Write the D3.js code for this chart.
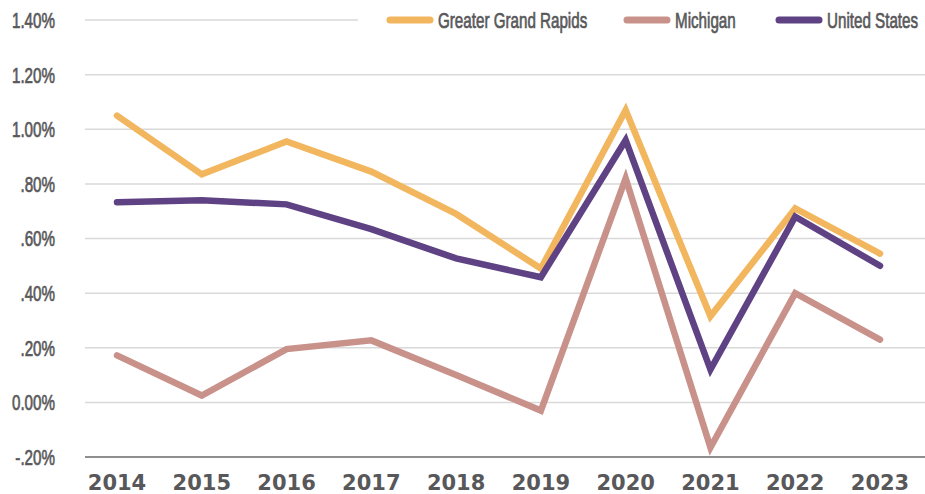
<!DOCTYPE html>
<html>
<head>
<meta charset="utf-8">
<script src="https://cdn.jsdelivr.net/npm/d3@7"></script>
<style>
  body { margin: 0; background: #fff; }
  svg { display: block; }
  .narrow { font-family: "Liberation Sans", Arial, sans-serif; }
</style>
</head>
<body>
<script>
// chart data
var years = ["2014","2015","2016","2017","2018","2019","2020","2021","2022","2023"];
var grandRapids = [1.05, 0.835, 0.955, 0.845, 0.69, 0.49, 1.07, 0.315, 0.71, 0.545];
var michigan    = [0.172, 0.025, 0.195, 0.227, 0.10, -0.03, 0.82, -0.165, 0.40, 0.23];
var unitedStates = [0.733, 0.74, 0.725, 0.634, 0.527, 0.458, 0.96, 0.12, 0.68, 0.50];
var yTicks = [-0.2, 0, 0.2, 0.4, 0.6, 0.8, 1.0, 1.2, 1.4];
var yTickLabels = ["-.20%","0.00%",".20%",".40%",".60%",".80%","1.00%","1.20%","1.40%"];

var series = [
  {name: "Greater Grand Rapids", values: grandRapids, color: "#f2b65f"},
  {name: "Michigan", values: michigan, color: "#c8918a"},
  {name: "United States", values: unitedStates, color: "#5e4283"}
];

var W = 925, H = 494;
var squeeze = 0.69; // no condensed font installed, so squeeze text horizontally
var svg = d3.select("body").append("svg").attr("width", W).attr("height", H);

var x = d3.scalePoint().domain(years).range([117, 880]);
var y = d3.scaleLinear().domain([-0.2, 1.4]).range([457, 20]);

// gridlines
svg.append("g").selectAll("line")
  .data(yTicks.filter(function(d){ return d > -0.2; }))
  .enter().append("line")
  .attr("x1", 85)
  .attr("x2", function(d){ return d === 1.4 ? 358 : W; })
  .attr("y1", function(d){ return y(d); })
  .attr("y2", function(d){ return y(d); })
  .style("stroke", "#d9d9d9")
  .style("stroke-width", 1.5);

// bottom axis line
svg.append("line")
  .attr("x1", 85).attr("x2", W)
  .attr("y1", y(-0.2)).attr("y2", y(-0.2))
  .style("stroke", "#8f8f91").style("stroke-width", 2);

// y tick labels
svg.append("g").selectAll("text")
  .data(yTicks)
  .enter().append("text")
  .attr("class", "narrow")
  .attr("transform", function(d){ return "translate(55," + y(d) + ") scale(" + squeeze + ",1)"; })
  .attr("dy", "0.36em")
  .attr("text-anchor", "end")
  .attr("font-size", 22)
  .attr("fill", "#58585a")
  .attr("stroke", "#58585a")
  .attr("stroke-width", 0.7)
  .text(function(d, i){ return yTickLabels[i]; });

// x tick labels
svg.append("g").selectAll("text")
  .data(years)
  .enter().append("text")
  .attr("x", function(d){ return x(d); })
  .attr("y", 490)
  .attr("text-anchor", "middle")
  .attr("font-family", "'DejaVu Sans', sans-serif")
  .attr("font-weight", "bold")
  .attr("font-size", 21)
  .attr("fill", "#58585a")
  .text(function(d){ return d; });

// lines
var line = d3.line()
  .x(function(d, i){ return x(years[i]); })
  .y(function(d){ return y(d); });

svg.append("g").selectAll("path")
  .data(series)
  .enter().append("path")
  .attr("d", function(s){ return line(s.values); })
  .attr("fill", "none")
  .attr("stroke", function(s){ return s.color; })
  .attr("stroke-width", 6.5)
  .attr("stroke-linejoin", "miter")
  .attr("stroke-linecap", "round");

// legend
var legendX = [390, 627, 779];
var lg = svg.append("g").selectAll("g")
  .data(series)
  .enter().append("g")
  .attr("transform", function(s, i){ return "translate(" + legendX[i] + ",20)"; });

lg.append("line")
  .attr("x1", 0).attr("x2", 40)
  .attr("y1", 0).attr("y2", 0)
  .attr("stroke", function(s){ return s.color; })
  .attr("stroke-width", 7)
  .attr("stroke-linecap", "round");

lg.append("text")
  .attr("class", "narrow")
  .attr("transform", "translate(48,0) scale(" + squeeze + ",1)")
  .attr("dy", "0.36em")
  .attr("font-size", 22)
  .attr("fill", "#58585a")
  .attr("stroke", "#58585a")
  .attr("stroke-width", 0.7)
  .text(function(s){ return s.name; });
</script>
</body>
</html>
